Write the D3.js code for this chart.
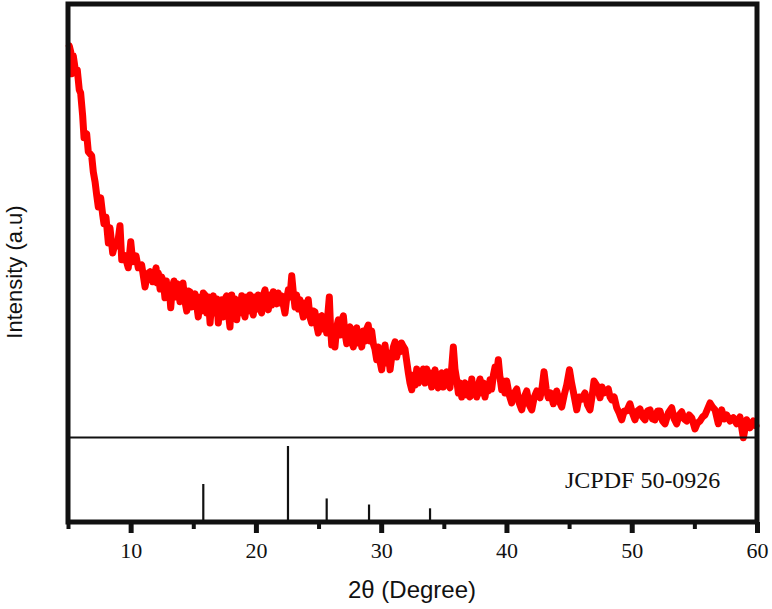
<!DOCTYPE html>
<html>
<head>
<meta charset="utf-8">
<script src="https://cdn.jsdelivr.net/npm/d3@7"></script>
<style>
  body { margin: 0; background: #fff; }
  svg { display: block; }
  .tick-label { font-family: "Liberation Serif", "Times New Roman", serif; font-size: 22px; fill: #111; }
  .axis-title { font-family: "Liberation Sans", Arial, sans-serif; fill: #111; }
</style>
</head>
<body>
<svg id="chart" width="772" height="609"></svg>
<script>
// measured pattern, 2θ (degree)
const twoTheta = [
  5.10, 5.22, 5.30, 5.42, 5.56, 5.74, 5.90, 6.01, 6.17, 6.28, 6.49, 6.62, 6.89, 7.02, 7.16, 7.29, 7.42, 7.61, 7.77, 7.87,
  8.03, 8.22, 8.35, 8.57, 8.75, 8.94, 9.15, 9.29, 9.55, 9.81, 10.01, 10.17, 10.43, 10.61, 10.88, 11.15, 11.33, 11.55, 11.76,
  12.03, 12.12, 12.21, 12.35, 12.48, 12.62, 12.74, 12.85, 12.93, 13.06, 13.20, 13.33, 13.46, 13.60, 13.73, 13.84, 13.94, 14.06,
  14.18, 14.33, 14.48, 14.61, 14.74, 14.87, 15.00, 15.14, 15.27, 15.40, 15.54, 15.67, 15.80, 15.94, 16.07, 16.20, 16.34, 16.47,
  16.60, 16.73, 16.87, 17.00, 17.13, 17.27, 17.40, 17.53, 17.67, 17.80, 17.93, 18.00, 18.07, 18.20, 18.33, 18.47, 18.60, 18.73,
  18.87, 19.00, 19.13, 19.26, 19.40, 19.53, 19.66, 19.79, 19.92, 20.06, 20.19, 20.33, 20.46, 20.60, 20.73, 20.86, 20.99, 21.12,
  21.26, 21.39, 21.52, 21.66, 21.79, 21.92, 22.06, 22.19, 22.32, 22.45, 22.59, 22.72, 22.86, 22.99, 23.12, 23.25, 23.39, 23.52,
  23.65, 23.78, 23.92, 24.05, 24.18, 24.31, 24.45, 24.58, 24.71, 24.85, 24.98, 25.11, 25.25, 25.38, 25.52, 25.65, 25.75, 25.86,
  25.95, 26.05, 26.18, 26.31, 26.45, 26.58, 26.71, 26.85, 26.98, 27.11, 27.25, 27.38, 27.51, 27.64, 27.78, 27.91, 28.05, 28.18,
  28.31, 28.45, 28.58, 28.71, 28.84, 28.97, 29.10, 29.24, 29.37, 29.50, 29.64, 29.77, 29.90, 30.04, 30.17, 30.31, 30.44, 30.57,
  30.71, 30.84, 30.97, 31.11, 31.24, 31.37, 31.50, 31.62, 31.74, 31.90, 32.17, 32.30, 32.44, 32.57, 32.70, 32.84, 32.97, 33.10,
  33.24, 33.37, 33.50, 33.64, 33.77, 33.90, 34.03, 34.16, 34.30, 34.42, 34.54, 34.68, 34.83, 34.96, 35.10, 35.23, 35.36, 35.49,
  35.62, 35.76, 35.89, 36.03, 36.16, 36.30, 36.43, 36.56, 36.69, 36.82, 36.96, 37.09, 37.23, 37.36, 37.50, 37.63, 37.76, 37.89,
  38.02, 38.16, 38.29, 38.42, 38.56, 38.69, 38.82, 38.96, 39.09, 39.22, 39.35, 39.48, 39.62, 39.75, 39.88, 40.02,
  40.22, 40.42, 40.62, 40.82, 41.02, 41.22, 41.42, 41.62, 41.82, 42.02, 42.22, 42.42, 42.68, 42.85, 43.00, 43.17, 43.34,
  43.54, 43.74, 44.01, 44.21, 44.41, 44.61, 44.81, 45.03, 45.20, 45.34, 45.48, 45.61, 45.81, 46.01, 46.27, 46.47, 46.67, 46.85,
  46.99, 47.23, 47.47, 47.63, 47.79, 48.13, 48.27, 48.40, 48.60, 48.80, 49.00, 49.20, 49.40, 49.60, 49.86, 50.06, 50.26, 50.46,
  50.66, 50.86, 51.06, 51.26, 51.46, 51.66, 51.86, 52.06, 52.26, 52.46, 52.66, 52.92, 53.19, 53.39, 53.59, 53.79, 53.99, 54.19,
  54.39, 54.59, 54.79, 55.05, 55.25, 55.45, 55.65, 55.85, 56.05, 56.25, 56.45, 56.65, 56.91, 57.18, 57.38, 57.58, 57.85, 58.11,
  58.38, 58.64, 58.91, 59.18, 59.44, 59.71, 59.92
];
// measured intensity (a.u.)
const intensity = [
  99.8, 98.3, 92.8, 97.3, 94.3, 93.8, 88.8, 88.0, 82.3, 76.8, 77.8, 73.3, 72.3, 68.3, 65.8, 62.5, 59.5, 61.8, 57.5, 55.3,
  57.0, 50.5, 54.3, 48.0, 50.3, 49.8, 54.8, 46.3, 47.3, 44.3, 50.8, 45.8, 47.3, 44.3, 45.0, 39.5, 42.8, 43.3, 40.8,
  44.3, 40.5, 43.0, 39.0, 42.0, 40.5, 36.8, 41.0, 38.5, 40.0, 34.3, 39.5, 41.0, 37.0, 40.3, 38.0, 35.8, 39.5,
  40.5, 36.0, 33.5, 38.5, 38.3, 34.5, 36.3, 37.8, 35.0, 32.0, 37.0, 33.5, 38.0, 37.5, 33.0, 37.0, 30.5, 35.5,
  37.3, 33.0, 36.5, 30.5, 35.0, 36.3, 32.0, 36.5, 37.3, 33.0, 29.5, 34.0, 37.5, 33.0, 36.5, 31.3, 36.0, 33.0,
  37.3, 33.5, 32.0, 37.0, 33.5, 37.5, 34.0, 32.5, 37.0, 34.0, 37.5, 34.0, 33.0, 37.5, 38.8, 35.0, 33.8, 37.5,
  35.0, 38.3, 36.0, 35.3, 38.0, 35.5, 37.3, 35.0, 33.0, 36.5, 38.8, 37.0, 42.3, 38.0, 34.5, 37.5, 34.0, 36.3,
  34.0, 32.0, 35.5, 33.0, 36.3, 32.0, 30.5, 33.5, 33.3, 30.0, 28.0, 32.0, 32.3, 29.0, 31.0, 28.0, 33.0, 37.0,
  30.0, 25.0, 29.0, 24.5, 29.5, 31.3, 27.5, 31.0, 32.3, 28.0, 25.3, 29.0, 29.5, 26.0, 24.5, 28.5, 29.3, 25.5,
  28.0, 24.5, 28.5, 26.0, 29.0, 30.0, 26.0, 28.5, 25.3, 24.0, 21.3, 24.5, 21.0, 18.8, 22.5, 25.0, 20.5, 23.0,
  18.8, 22.0, 24.5, 25.8, 22.0, 25.0, 23.3, 25.5, 24.8, 24.0, 18.0, 15.5, 13.8, 17.5, 15.0, 19.0, 15.5, 18.0,
  16.0, 19.0, 15.5, 19.0, 16.0, 18.0, 14.5, 17.0, 18.8, 15.5, 14.3, 17.5, 18.0, 14.5, 17.0, 18.3, 15.0, 14.3,
  19.0, 24.5, 19.0, 16.3, 13.0, 15.5, 12.0, 15.0, 15.5, 12.5, 15.0, 12.0, 16.5, 13.0, 14.5, 12.0, 15.0, 16.5,
  13.0, 15.5, 12.0, 15.0, 13.5, 16.3, 14.0, 17.5, 19.5, 18.0, 21.3, 17.0, 13.8, 16.0, 13.0, 16.0,
  12.5, 10.5, 13.0, 14.0, 10.5, 8.8, 12.0, 13.5, 10.0, 8.8, 12.0, 13.5, 11.8, 14.5, 18.3, 14.0, 11.8,
  13.0, 10.3, 13.5, 11.0, 9.5, 12.5, 15.0, 18.8, 15.5, 13.3, 11.0, 8.8, 12.0, 11.5, 13.0, 10.0, 8.8, 12.5,
  16.0, 14.8, 11.8, 14.5, 13.0, 14.0, 12.0, 11.3, 12.0, 9.3, 8.0, 6.3, 8.5, 8.5, 10.3, 8.0, 6.3, 8.5,
  9.0, 7.0, 6.3, 8.5, 8.8, 6.5, 6.3, 8.5, 8.5, 6.0, 5.3, 8.0, 9.3, 6.5, 5.3, 7.5, 8.3, 6.5,
  6.0, 7.5, 6.8, 4.0, 5.5, 6.0, 7.0, 7.5, 9.0, 10.5, 9.5, 8.8, 5.3, 8.8, 6.5, 7.5, 6.0, 6.8,
  5.3, 7.0, 1.8, 6.3, 4.3, 6.0, 4.8
];
// reference card JCPDF 50-0926
const refPos = [15.8, 22.56, 25.65, 29.03, 33.9];
const refInt = [50, 100, 31, 23, 18];
const refLabel = "JCPDF 50-0926";

const majorTicks = [10, 20, 30, 40, 50, 60];
const minorTicks = [5, 15, 25, 35, 45, 55];

const frame = { left: 68, right: 757, top: 4, bottom: 522 };
const sepY = 437.5;

const svg = d3.select("#chart");

const x = d3.scaleLinear().domain([5, 60]).range([frame.left, frame.right]);
const y = d3.scaleLinear().domain([0, 100]).range([445, 45]);
const yRef = d3.scaleLinear().domain([0, 100]).range([frame.bottom, 446]);

const pts = twoTheta.map((t, i) => [t, intensity[i]]);

// pattern
svg.append("path")
  .datum(pts)
  .attr("fill", "none")
  .attr("stroke", "#ff0000")
  .attr("stroke-width", 7)
  .attr("stroke-linejoin", "round")
  .attr("stroke-linecap", "round")
  .attr("d", d3.line().x(d => x(d[0])).y(d => y(d[1])));

// separator
svg.append("line")
  .attr("x1", frame.left).attr("x2", frame.right)
  .attr("y1", sepY).attr("y2", sepY)
  .attr("stroke", "#111").attr("stroke-width", 2.2);

// reference sticks
svg.append("g").selectAll("line")
  .data(refPos.map((p, i) => [p, refInt[i]]))
  .join("line")
    .attr("x1", d => x(d[0])).attr("x2", d => x(d[0]))
    .attr("y1", yRef(0)).attr("y2", d => yRef(d[1]))
    .attr("stroke", "#111").attr("stroke-width", 2.2);

svg.append("text")
  .attr("x", 565).attr("y", 488)
  .attr("font-family", "'Liberation Serif', 'Times New Roman', serif")
  .attr("font-size", 24).attr("fill", "#111")
  .text(refLabel);

// ticks
const minorAxis = svg.append("g")
  .attr("transform", `translate(0,${frame.bottom})`)
  .call(d3.axisBottom(x).tickValues(minorTicks).tickSize(7).tickFormat(""));
minorAxis.select(".domain").remove();
minorAxis.selectAll(".tick line").attr("stroke", "#111").attr("stroke-width", 4);

const majorAxis = svg.append("g")
  .attr("transform", `translate(0,${frame.bottom})`)
  .call(d3.axisBottom(x).tickValues(majorTicks).tickSize(11).tickPadding(9).tickFormat(d3.format("d")));
majorAxis.select(".domain").remove();
majorAxis.selectAll(".tick line").attr("stroke", "#111").attr("stroke-width", 5);
majorAxis.selectAll(".tick text").attr("class", "tick-label").attr("fill", null);
majorAxis.attr("font-family", null).attr("font-size", null);

// frame
svg.append("rect")
  .attr("x", frame.left).attr("y", frame.top)
  .attr("width", frame.right - frame.left).attr("height", frame.bottom - frame.top)
  .attr("fill", "none").attr("stroke", "#111").attr("stroke-width", 5);

// titles
svg.append("text")
  .attr("class", "axis-title")
  .attr("x", 412).attr("y", 598)
  .attr("font-size", 24)
  .attr("text-anchor", "middle")
  .text("2θ (Degree)");

svg.append("text")
  .attr("class", "axis-title")
  .attr("font-size", 22)
  .attr("transform", "translate(22,272) rotate(-90)")
  .attr("text-anchor", "middle")
  .text("Intensity (a.u)");
</script>
</body>
</html>
